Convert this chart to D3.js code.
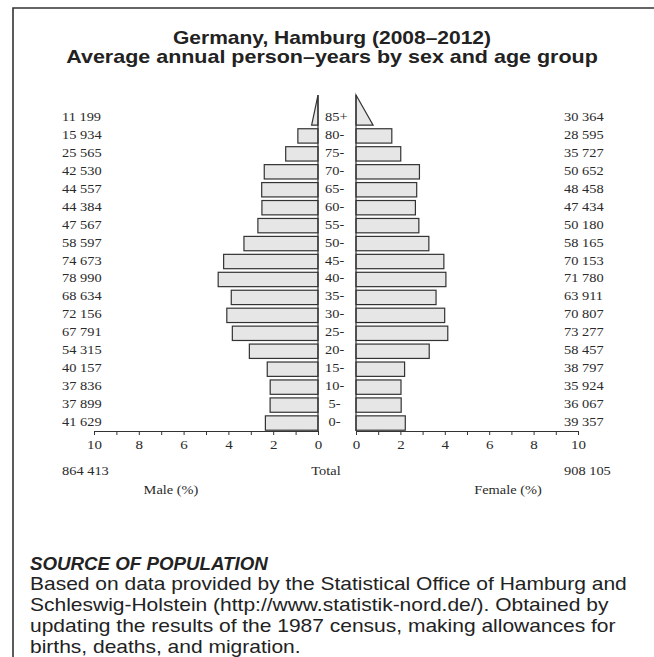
<!DOCTYPE html>
<html lang="en">
<head>
    <meta content="text/html; charset=utf-8" http-equiv="content-type"/>
    <title>Hamburg pyramid</title>
    <script src="https://d3js.org/d3.v7.min.js"></script>
    <style>
        body { margin: 0; background: #fff; }
        .sans { font-family: "Liberation Sans", Arial, Helvetica, sans-serif; fill: #222; }
        .serif { font-family: "Liberation Serif", "Times New Roman", serif; fill: #2a2a2a; }
    </style>
</head>
<body>
<div id="my_dataviz"></div>

<script>

// age groups, top to bottom
var ages = ["85+", "80-", "75-", "70-", "65-", "60-", "55-", "50-", "45-",
            "40-", "35-", "30-", "25-", "20-", "15-", "10-", "5-", "0-"];

// average annual person-years
var male = [11199, 15934, 25565, 42530, 44557, 44384, 47567, 58597, 74673,
            78990, 68634, 72156, 67791, 54315, 40157, 37836, 37899, 41629];
var female = [30364, 28595, 35727, 50652, 48458, 47434, 50180, 58165, 70153,
              71780, 63911, 70807, 73277, 58457, 38797, 35924, 36067, 39357];

var axisTicks = [0, 1, 2, 3, 4, 5, 6, 7, 8, 9, 10];
var axisLabels = [0, 2, 4, 6, 8, 10];

var titleLines = ["Germany, Hamburg (2008\u20132012)",
                  "Average annual person\u2013years by sex and age group"];
var sourceTitle = "SOURCE OF POPULATION";
var sourceLines = ["Based on data provided by the Statistical Office of Hamburg and",
                   "Schleswig-Holstein (http://www.statistik-nord.de/). Obtained by",
                   "updating the results of the 1987 census, making allowances for",
                   "births, deaths, and migration."];

var W = 654, H = 657;
var SX = 1.2;   // the scan is a bit stretched sideways

var totalM = d3.sum(male), totalF = d3.sum(female), total = totalM + totalF;
var fmt = d3.formatLocale({decimal: ".", thousands: " ", grouping: [3], currency: ["", ""]}).format(",d");

var svg = d3.select("#my_dataviz")
  .append("svg")
    .attr("width", W)
    .attr("height", H);

// stretched text helper
function stext(sel, x, y, str, cls, size, anchor, sx) {
  return sel.append("text")
    .attr("class", cls)
    .attr("transform", "translate(" + x + "," + y + ") scale(" + (sx || SX) + ",1)")
    .attr("font-size", size)
    .attr("text-anchor", anchor || "start")
    .text(str);
}

// frame (top and left only)
svg.append("path")
  .attr("d", "M13,657V8H654")
  .attr("fill", "none")
  .attr("stroke", "#333")
  .attr("stroke-width", 1.6);

// title
stext(svg, 332, 44, titleLines[0], "sans", 17.5, "middle").attr("font-weight", "bold");
stext(svg, 332, 63, titleLines[1], "sans", 17.9, "middle").attr("font-weight", "bold");

// scales
var axisY = 431;
var y = d3.scaleBand().domain(ages).range([109, 432]).paddingInner(0.2).paddingOuter(0.1);
var xM = d3.scaleLinear().domain([0, 10]).range([318, 94]);
var xF = d3.scaleLinear().domain([0, 10]).range([356, 578]);

var rows = ages.map(function(a, i) {
  return { age: a, m: male[i], f: female[i], pm: male[i] / total * 100, pf: female[i] / total * 100 };
});

var bw = y.bandwidth();
var triH = bw * 2.1;

// bars
var g = svg.append("g");
rows.forEach(function(d) {
  var top = y(d.age), bot = top + bw;
  if (d.age === "85+") {
    // open-ended group drawn as triangle
    g.append("path")
      .attr("d", "M" + xM(0) + "," + (bot - triH) + "L" + xM(d.pm * 0.45) + "," + bot + "H" + xM(0) + "Z")
      .attr("fill", "#e6e6e6").attr("stroke", "#333").attr("stroke-width", 1.2);
    g.append("path")
      .attr("d", "M" + xF(0) + "," + (bot - triH) + "L" + xF(d.pf * 0.45) + "," + bot + "H" + xF(0) + "Z")
      .attr("fill", "#e6e6e6").attr("stroke", "#333").attr("stroke-width", 1.2);
  } else {
    g.append("rect")
      .attr("x", xM(d.pm)).attr("y", top)
      .attr("width", xM(0) - xM(d.pm)).attr("height", bw)
      .attr("fill", "#e6e6e6").attr("stroke", "#333").attr("stroke-width", 1.2);
    g.append("rect")
      .attr("x", xF(0)).attr("y", top)
      .attr("width", xF(d.pf) - xF(0)).attr("height", bw)
      .attr("fill", "#e6e6e6").attr("stroke", "#333").attr("stroke-width", 1.2);
  }
});

// zero lines
var zeroTop = y("85+") + bw - triH;
g.append("line").attr("x1", xM(0)).attr("x2", xM(0)).attr("y1", zeroTop).attr("y2", axisY)
  .attr("stroke", "#333").attr("stroke-width", 1.2);
g.append("line").attr("x1", xF(0)).attr("x2", xF(0)).attr("y1", zeroTop).attr("y2", axisY)
  .attr("stroke", "#333").attr("stroke-width", 1.2);

// labels: counts and age groups
rows.forEach(function(d) {
  var cy = y(d.age) + bw / 2 + 3;
  stext(svg, 62, cy, fmt(d.m), "serif", 12);
  stext(svg, 564, cy, fmt(d.f), "serif", 12);
  stext(svg, d.age.length === 2 ? 328.5 : 325, cy, d.age, "serif", 12);
});

// x axes
function drawAxis(scale) {
  var ax = svg.append("g")
    .attr("transform", "translate(0," + axisY + ")")
    .call(d3.axisBottom(scale).tickValues(axisTicks).tickSize(4).tickSizeOuter(0).tickPadding(5)
      .tickFormat(function(v) { return axisLabels.indexOf(v) >= 0 ? v : ""; }));
  ax.select(".domain").attr("stroke", "#333").attr("stroke-width", 1.2);
  ax.selectAll(".tick line").attr("stroke", "#333");
  ax.selectAll("text")
    .attr("class", "serif")
    .attr("font-size", 12.5)
    .attr("fill", "#2a2a2a")
    .attr("transform", "scale(" + SX + ",1)");
}
drawAxis(xM);
drawAxis(xF);

// totals
stext(svg, 62, 475, fmt(totalM), "serif", 12);
stext(svg, 326, 475, "Total", "serif", 12, "middle");
stext(svg, 564, 475, fmt(totalF), "serif", 12);
stext(svg, 171, 494, "Male (%)", "serif", 12, "middle");
stext(svg, 508, 494, "Female (%)", "serif", 12, "middle");

// source note
stext(svg, 30, 569.5, sourceTitle, "sans", 17.5, "start", 1.07).attr("font-weight", "bold").attr("font-style", "italic");
sourceLines.forEach(function(s, i) {
  stext(svg, 30, 590 + i * 21, s, "sans", 17.5);
});

</script>
</body>
</html>
